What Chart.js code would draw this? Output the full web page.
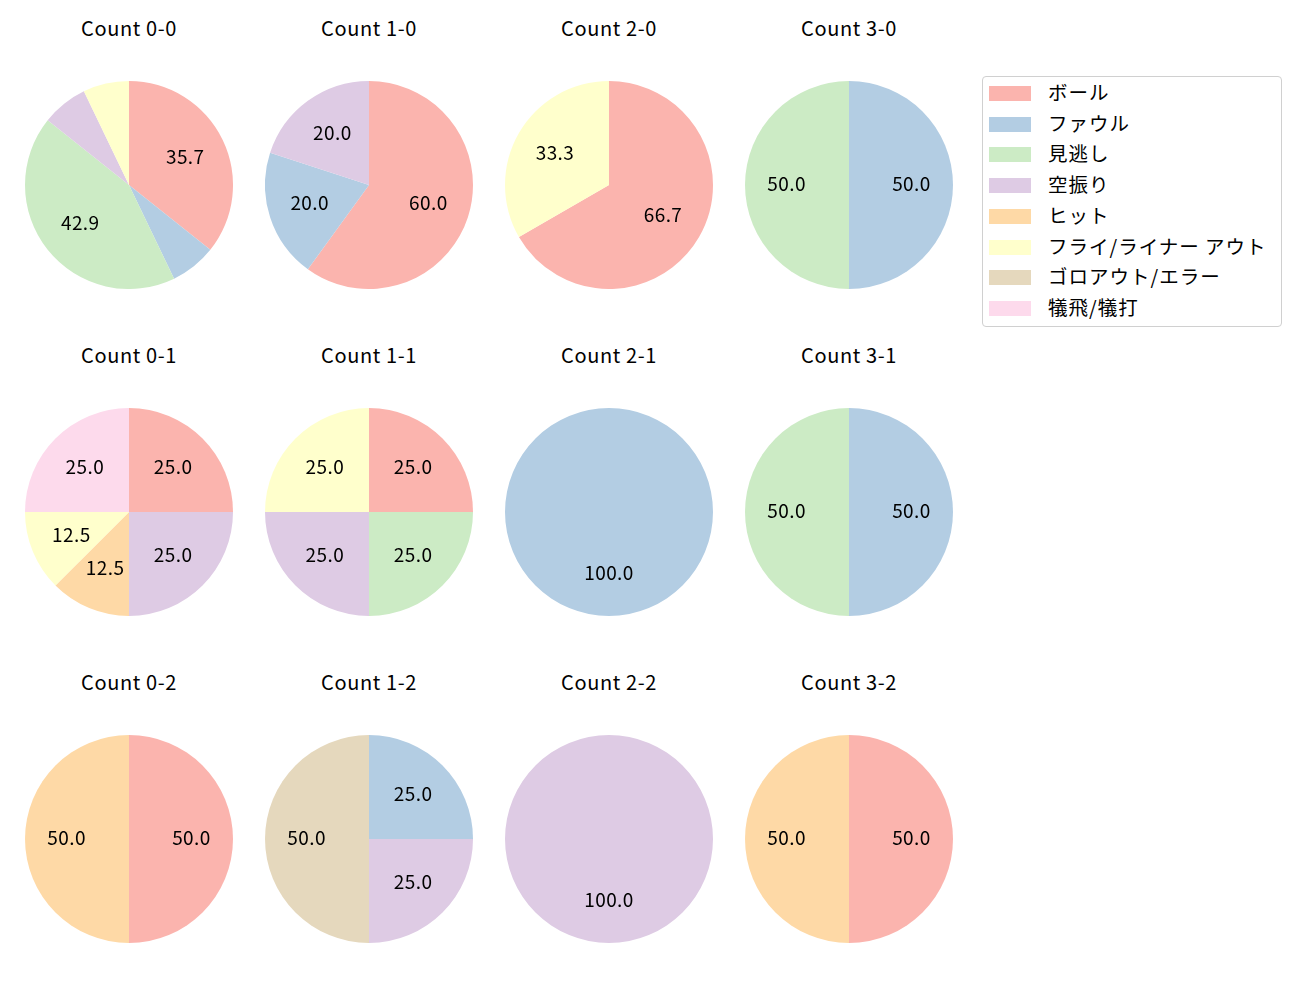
<!DOCTYPE html>
<html lang="ja">
<head>
  <meta charset="UTF-8" />
  <title>Count pies</title>
  <script src="https://cdn.jsdelivr.net/npm/chart.js"></script>
  <style>
    body {
      margin: 0;
      width: 1300px;
      height: 1000px;
      background: #ffffff;
      position: relative;
      font-family: "Noto Sans CJK JP", "DejaVu Sans", sans-serif;
      color: #000;
    }
    .title {
      position: absolute;
      width: 240px;
      text-align: center;
      font-size: 20px;
      letter-spacing: 0.6px;
      line-height: 24px;
    }
    canvas.pie {
      position: absolute;
    }
    .legend {
      position: absolute;
      left: 982px;
      top: 76px;
      width: 300px;
      height: 251px;
      border: 1px solid #d0d0d0;
      border-radius: 4px;
      box-sizing: border-box;
    }
    .legend .row {
      position: absolute;
      left: 0;
      height: 24px;
      font-size: 19.5px;
      letter-spacing: 1px;
      line-height: 24px;
      white-space: nowrap;
    }
    .legend .sw {
      position: absolute;
      left: 6px;
      top: 5px;
      width: 42px;
      height: 15px;
    }
    .legend .tx {
      position: absolute;
      left: 65px;
      top: -1px;
    }
  </style>
</head>
<body>
  <div class="legend" id="legend"></div>

  <script>
    const categories = ['ボール', 'ファウル', '見逃し', '空振り', 'ヒット', 'フライ/ライナー アウト', 'ゴロアウト/エラー', '犠飛/犠打'];
    const colors = ['#fbb4ae', '#b3cde3', '#ccebc5', '#decbe4', '#fed9a6', '#ffffcc', '#e5d8bd', '#fddaec'];

    const counts = ['0-0', '1-0', '2-0', '3-0', '0-1', '1-1', '2-1', '3-1', '0-2', '1-2', '2-2', '3-2'];

    // values per count, same order as categories
    const c00 = [5, 1, 6, 1, 0, 1, 0, 0];
    const c10 = [3, 1, 0, 1, 0, 0, 0, 0];
    const c20 = [2, 0, 0, 0, 0, 1, 0, 0];
    const c30 = [0, 1, 1, 0, 0, 0, 0, 0];
    const c01 = [2, 0, 0, 2, 1, 1, 0, 2];
    const c11 = [1, 0, 1, 1, 0, 1, 0, 0];
    const c21 = [0, 1, 0, 0, 0, 0, 0, 0];
    const c31 = [0, 1, 1, 0, 0, 0, 0, 0];
    const c02 = [1, 0, 0, 0, 1, 0, 0, 0];
    const c12 = [0, 1, 0, 1, 0, 0, 2, 0];
    const c22 = [0, 0, 0, 1, 0, 0, 0, 0];
    const c32 = [1, 0, 0, 0, 1, 0, 0, 0];
    const values = [c00, c10, c20, c30, c01, c11, c21, c31, c02, c12, c22, c32];

    const colX = [129, 369, 609, 849];
    const rowY = [185, 512, 839];
    const R = 104;

    // percent labels at 0.6 of the radius, like autopct
    const pctLabels = {
      id: 'pctLabels',
      afterDatasetsDraw(chart) {
        const ctx = chart.ctx;
        const data = chart.data.datasets[0].data;
        const total = data.reduce((a, b) => a + b, 0);
        ctx.save();
        ctx.font = '19px "Noto Sans CJK JP", "DejaVu Sans", sans-serif';
        ctx.letterSpacing = '0.4px';
        ctx.fillStyle = '#000';
        ctx.textAlign = 'center';
        ctx.textBaseline = 'middle';
        chart.getDatasetMeta(0).data.forEach((arc, i) => {
          const pct = data[i] / total * 100;
          if (pct < 10) return;
          const p = arc.getProps(['x', 'y', 'startAngle', 'endAngle', 'outerRadius'], true);
          const mid = (p.startAngle + p.endAngle) / 2;
          const r = p.outerRadius * 0.6;
          ctx.fillText(pct.toFixed(1), p.x + Math.cos(mid) * r, p.y + Math.sin(mid) * r - 1.5);
        });
        ctx.restore();
      }
    };

    counts.forEach((name, k) => {
      const cx = colX[k % 4];
      const cy = rowY[Math.floor(k / 4)];

      const t = document.createElement('div');
      t.className = 'title';
      t.textContent = 'Count ' + name;
      t.style.left = (cx - 120) + 'px';
      t.style.top = (cy - 169) + 'px';
      document.body.appendChild(t);

      const cv = document.createElement('canvas');
      cv.className = 'pie';
      cv.width = R * 2;
      cv.height = R * 2;
      cv.style.left = (cx - R) + 'px';
      cv.style.top = (cy - R) + 'px';
      document.body.appendChild(cv);

      new Chart(cv.getContext('2d'), {
        type: 'pie',
        data: {
          labels: categories,
          datasets: [{
            data: values[k],
            backgroundColor: colors,
            borderWidth: 0
          }]
        },
        options: {
          responsive: false,
          animation: false,
          layout: { padding: 0 },
          plugins: {
            legend: { display: false },
            tooltip: { enabled: false }
          }
        },
        plugins: [pctLabels]
      });
    });

    // legend
    const legend = document.getElementById('legend');
    categories.forEach((c, i) => {
      const row = document.createElement('div');
      row.className = 'row';
      row.style.top = (4 + i * 30.7) + 'px';
      row.innerHTML = '<span class="sw" style="background:' + colors[i] + '"></span><span class="tx">' + c + '</span>';
      legend.appendChild(row);
    });
  </script>
</body>
</html>
